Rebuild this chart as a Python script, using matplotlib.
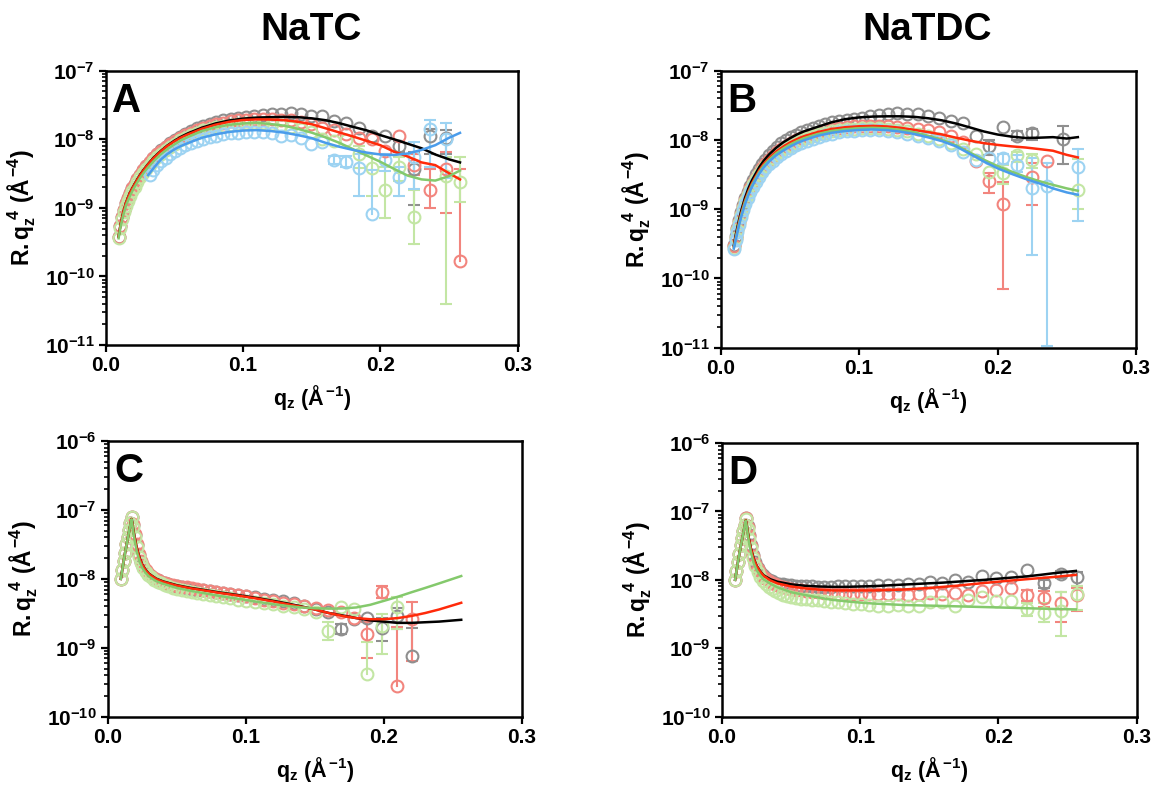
import numpy as np
import matplotlib
matplotlib.use('Agg')
import matplotlib.pyplot as plt
from matplotlib.ticker import LogLocator, FuncFormatter, NullFormatter, MultipleLocator, FixedLocator

plt.rcParams['font.family'] = 'Liberation Sans'
plt.rcParams['font.weight'] = 'bold'
plt.rcParams['mathtext.fontset'] = 'custom'
plt.rcParams['mathtext.rm'] = 'Liberation Sans:bold'
plt.rcParams['mathtext.it'] = 'Liberation Sans:bold'
plt.rcParams['mathtext.bf'] = 'Liberation Sans:bold'

nan = np.nan

# ---------------- data: panels A / B (q grid shared) ----------------
q_AB = [0.0095, 0.0107, 0.0119, 0.0132, 0.0146, 0.0161, 0.0177, 0.0194, 0.0212, 0.0232,
        0.0253, 0.0275, 0.0298, 0.0323, 0.0349, 0.0377, 0.0406, 0.0437, 0.047, 0.0505,
        0.0542, 0.0581, 0.0622, 0.0665, 0.071, 0.0757, 0.0806, 0.0857, 0.091, 0.0965,
        0.1022, 0.1082, 0.1144, 0.1209, 0.1277, 0.1348, 0.1422, 0.1499, 0.1579, 0.1663,
        0.1751, 0.1842, 0.1937, 0.2036, 0.2139, 0.2247, 0.2359, 0.2476, 0.258]

A_gray = [3.8e-10, 5.5e-10, 7.4e-10, 9.4e-10, 1.16e-9, 1.38e-9, 1.62e-9, 1.92e-9, 2.24e-9, 2.62e-9,
          3.05e-9, 3.52e-9, 4.05e-9, 4.6e-9, 5.3e-9, 6.1e-9, 6.9e-9, 7.8e-9, 8.8e-9, 9.8e-9,
          1.09e-8, 1.2e-8, 1.32e-8, 1.44e-8, 1.56e-8, 1.68e-8, 1.8e-8, 1.9e-8, 1.98e-8, 2.05e-8,
          2.12e-8, 2.18e-8, 2.24e-8, 2.3e-8, 2.36e-8, 2.42e-8, 2.3e-8, 2.15e-8, 2.2e-8, 1.85e-8,
          1.7e-8, 1.45e-8, 1.13e-8, 1.1e-8, 7.9e-9, 3.7e-9, 1.1e-8, 1.05e-8, nan]
A_red = [3.8e-10, 5.5e-10, 7.4e-10, 9.4e-10, 1.16e-9, 1.38e-9, 1.62e-9, 1.92e-9, 2.24e-9, 2.62e-9,
         3.05e-9, 3.52e-9, 4.05e-9, 4.6e-9, 5.25e-9, 6.0e-9, 6.8e-9, 7.6e-9, 8.5e-9, 9.4e-9,
         1.04e-8, 1.14e-8, 1.25e-8, 1.36e-8, 1.47e-8, 1.57e-8, 1.67e-8, 1.75e-8, 1.83e-8, 1.89e-8,
         1.93e-8, 1.96e-8, 1.97e-8, 1.96e-8, 1.93e-8, 1.88e-8, 1.8e-8, 1.68e-8, 1.45e-8, 1.38e-8,
         1.2e-8, 1.05e-8, 1.0e-8, 6.8e-9, 1.1e-8, 4.2e-9, 1.85e-9, 3.7e-9, 1.7e-10]
A_green = [3.6e-10, 5.1e-10, 6.8e-10, 8.6e-10, 1.06e-9, 1.26e-9, 1.47e-9, 1.75e-9, 2.03e-9, 2.38e-9,
           2.78e-9, 3.22e-9, 3.7e-9, 4.15e-9, 4.75e-9, 5.45e-9, 6.15e-9, 6.9e-9, 7.7e-9, 8.5e-9,
           9.6e-9, 1.05e-8, 1.15e-8, 1.25e-8, 1.35e-8, 1.43e-8, 1.51e-8, 1.58e-8, 1.64e-8, 1.68e-8,
           1.71e-8, 1.73e-8, 1.72e-8, 1.67e-8, 1.6e-8, 1.52e-8, 1.42e-8, 1.26e-8, 1.02e-8, 9.3e-9,
           9.6e-9, 6.0e-9, 3.8e-9, 1.8e-9, 4.0e-9, 7.4e-10, nan, 2.9e-9, 2.4e-9]
A_blue = [nan, nan, nan, nan, nan, nan, nan, nan, nan, nan,
          nan, nan, nan, 3.0e-9, 3.6e-9, 4.2e-9, 4.8e-9, 5.4e-9, 6.1e-9, 6.8e-9,
          7.5e-9, 8.2e-9, 8.9e-9, 9.5e-9, 1.02e-8, 1.08e-8, 1.13e-8, 1.18e-8, 1.22e-8, 1.25e-8,
          1.28e-8, 1.29e-8, 1.29e-8, 1.22e-8, 1.13e-8, 1.15e-8, 1.05e-8, 8.6e-9, 9.0e-9, 5.0e-9,
          4.7e-9, 3.8e-9, 8.2e-10, 5.0e-9, 2.8e-9, 5.6e-9, 1.4e-8, 1.0e-8, nan]

# error-bar ends for the last 11 points (q >= 0.158)
A_gray_lo = [None, None, None, None, None, None, 6.5e-9, 1.1e-9, 6e-9, 6e-9, None]
A_gray_hi = [None, None, None, None, None, None, 9.5e-9, 6.5e-9, 1.4e-8, 1.35e-8, None]
A_red_lo = [None, None, None, None, None, None, None, 3.0e-9, 1.0e-9, 8.5e-10, None]
A_red_hi = [None, None, None, None, None, None, None, 6.0e-9, 3.7e-9, 6.5e-9, 3.7e-9]
A_green_lo = [None, None, None, 3.8e-9, 1.5e-9, 7e-10, 2.5e-9, 3e-10, None, 4e-11, 1.2e-9]
A_green_hi = [None, None, None, 8e-9, 6e-9, 4e-9, 5.5e-9, 1.8e-9, None, 5.5e-9, 5.6e-9]
A_blue_lo = [None, 4.3e-9, 3.9e-9, 1.5e-9, None, 3.5e-9, 1.5e-9, 1.9e-9, 4e-9, 2.7e-9, None]
A_blue_hi = [None, 5.8e-9, 5.8e-9, 6e-9, 3.6e-9, 6e-9, 4e-9, 9e-9, 1.9e-8, 1.7e-8, None]

qf_AB = [0.0095, 0.011, 0.013, 0.015, 0.0175, 0.02, 0.0225, 0.025, 0.028, 0.031,
         0.035, 0.04, 0.045, 0.05, 0.055, 0.06, 0.07, 0.08, 0.09, 0.1,
         0.11, 0.12, 0.13, 0.14, 0.15, 0.16, 0.17, 0.18, 0.19, 0.2,
         0.21, 0.22, 0.23, 0.24, 0.25, 0.258]
A_fit_black = [3.8e-10, 5.8e-10, 8.8e-10, 1.2e-9, 1.62e-9, 2.02e-9, 2.48e-9, 3.0e-9, 3.65e-9, 4.35e-9,
               5.4e-9, 6.7e-9, 8.1e-9, 9.5e-9, 1.09e-8, 1.22e-8, 1.47e-8, 1.7e-8, 1.88e-8, 2.0e-8,
               2.07e-8, 2.1e-8, 2.12e-8, 2.1e-8, 2.02e-8, 1.9e-8, 1.72e-8, 1.52e-8, 1.35e-8, 1.15e-8,
               1.0e-8, 8.6e-9, 7.4e-9, 6.0e-9, 5.1e-9, 4.6e-9]
A_fit_red = [3.8e-10, 5.8e-10, 8.8e-10, 1.2e-9, 1.6e-9, 2.0e-9, 2.45e-9, 2.95e-9, 3.6e-9, 4.3e-9,
             5.3e-9, 6.6e-9, 8.0e-9, 9.3e-9, 1.06e-8, 1.18e-8, 1.42e-8, 1.63e-8, 1.8e-8, 1.91e-8,
             1.95e-8, 1.94e-8, 1.9e-8, 1.8e-8, 1.66e-8, 1.45e-8, 1.26e-8, 1.1e-8, 9.5e-9, 8.2e-9,
             6.6e-9, 5.6e-9, 4.6e-9, 4.2e-9, 3.2e-9, 2.6e-9]
A_fit_green = [3.6e-10, 5.4e-10, 8.0e-10, 1.1e-9, 1.45e-9, 1.85e-9, 2.25e-9, 2.72e-9, 3.3e-9, 3.9e-9,
               4.8e-9, 6.0e-9, 7.2e-9, 8.4e-9, 9.7e-9, 1.08e-8, 1.32e-8, 1.5e-8, 1.63e-8, 1.7e-8,
               1.74e-8, 1.67e-8, 1.58e-8, 1.42e-8, 1.25e-8, 1.07e-8, 8.9e-9, 7.2e-9, 5.8e-9, 4.7e-9,
               3.7e-9, 2.95e-9, 2.6e-9, 2.5e-9, 2.9e-9, 3.5e-9]
A_fit_blue = [nan, nan, nan, nan, nan, nan, nan, nan, nan, 3.0e-9,
              3.8e-9, 5.0e-9, 6.1e-9, 7.1e-9, 8.0e-9, 8.8e-9, 1.05e-8, 1.18e-8, 1.28e-8, 1.34e-8,
              1.36e-8, 1.32e-8, 1.25e-8, 1.15e-8, 1.04e-8, 8.9e-9, 7.8e-9, 7.0e-9, 6.4e-9, 6.0e-9,
              5.9e-9, 6.2e-9, 7.0e-9, 8.2e-9, 1.05e-8, 1.24e-8]

B_gray = [3.0e-10, 4.1e-10, 5.4e-10, 6.9e-10, 9.2e-10, 1.15e-9, 1.45e-9, 1.8e-9, 2.2e-9, 2.65e-9,
          3.2e-9, 3.8e-9, 4.5e-9, 5.2e-9, 6.1e-9, 7.0e-9, 8.0e-9, 9.0e-9, 1.0e-8, 1.1e-8,
          1.2e-8, 1.3e-8, 1.4e-8, 1.5e-8, 1.6e-8, 1.7e-8, 1.8e-8, 1.88e-8, 1.95e-8, 2.02e-8,
          2.1e-8, 2.2e-8, 2.3e-8, 2.4e-8, 2.42e-8, 2.4e-8, 2.35e-8, 2.25e-8, 2.1e-8, 1.87e-8,
          1.77e-8, 1.16e-8, 8.1e-9, 1.55e-8, 1.16e-8, 1.27e-8, nan, 1.03e-8, nan]
B_red = [2.9e-10, 3.9e-10, 5.1e-10, 6.6e-10, 8.6e-10, 1.08e-9, 1.35e-9, 1.65e-9, 2.0e-9, 2.4e-9,
         2.85e-9, 3.35e-9, 3.9e-9, 4.5e-9, 5.2e-9, 5.9e-9, 6.7e-9, 7.5e-9, 8.3e-9, 9.1e-9,
         1.0e-8, 1.08e-8, 1.16e-8, 1.24e-8, 1.32e-8, 1.39e-8, 1.45e-8, 1.5e-8, 1.55e-8, 1.58e-8,
         1.6e-8, 1.61e-8, 1.6e-8, 1.58e-8, 1.55e-8, 1.5e-8, 1.42e-8, 1.38e-8, 1.3e-8, 1.15e-8,
         9.5e-9, 4.9e-9, 2.6e-9, 1.2e-9, nan, 2.9e-9, 4.9e-9, nan, nan]
B_green = [2.8e-10, 3.8e-10, 5.0e-10, 6.4e-10, 8.3e-10, 1.04e-9, 1.3e-9, 1.58e-9, 1.9e-9, 2.3e-9,
           2.72e-9, 3.2e-9, 3.7e-9, 4.25e-9, 4.85e-9, 5.5e-9, 6.2e-9, 6.9e-9, 7.6e-9, 8.3e-9,
           9.1e-9, 9.9e-9, 1.07e-8, 1.14e-8, 1.21e-8, 1.28e-8, 1.34e-8, 1.39e-8, 1.43e-8, 1.46e-8,
           1.48e-8, 1.49e-8, 1.48e-8, 1.45e-8, 1.4e-8, 1.33e-8, 1.24e-8, 1.14e-8, 1.04e-8, 9.0e-9,
           7.5e-9, 6.2e-9, 3.5e-9, 3.3e-9, 6.1e-9, 5.2e-9, nan, nan, 1.9e-9]
B_blue = [2.7e-10, 3.6e-10, 4.7e-10, 6.0e-10, 7.7e-10, 9.6e-10, 1.2e-9, 1.46e-9, 1.75e-9, 2.1e-9,
          2.5e-9, 2.95e-9, 3.4e-9, 3.9e-9, 4.45e-9, 5.0e-9, 5.65e-9, 6.3e-9, 7.0e-9, 7.7e-9,
          8.4e-9, 9.1e-9, 9.8e-9, 1.05e-8, 1.12e-8, 1.18e-8, 1.24e-8, 1.29e-8, 1.33e-8, 1.36e-8,
          1.38e-8, 1.39e-8, 1.38e-8, 1.35e-8, 1.3e-8, 1.24e-8, 1.16e-8, 1.07e-8, 9.7e-9, 8.4e-9,
          6.8e-9, 5.2e-9, 5.5e-9, 5.5e-9, 4.4e-9, 2.0e-9, 2.2e-9, nan, 4.1e-9]

B_gray_lo = [None, None, None, None, 6e-9, None, 1.0e-8, 1.0e-8, None, 4.5e-9, None]
B_gray_hi = [None, None, None, None, 1.0e-8, None, 1.35e-8, 1.45e-8, None, 1.6e-8, None]
B_red_lo = [None, None, None, None, 1.7e-9, 7e-11, None, 1.15e-9, None, None, None]
B_red_hi = [None, None, None, None, 3.3e-9, 2.5e-9, None, 4.6e-9, None, None, None]
B_green_lo = [None, None, None, None, None, 2.3e-9, 4.8e-9, 4.0e-9, None, None, 1.0e-9]
B_green_hi = [None, None, None, None, None, 4.4e-9, 6.8e-9, 6.3e-9, None, None, 5.3e-9]
B_blue_lo = [None, None, None, None, None, 4.5e-9, 3.5e-9, 2.2e-10, 1.05e-11, None, 6.8e-10]
B_blue_hi = [None, None, None, None, None, 6.3e-9, 6.0e-9, 5.5e-9, 4.6e-9, None, 7.5e-9]

B_fit_black = [3.0e-10, 4.4e-10, 6.7e-10, 9.8e-10, 1.45e-9, 2.0e-9, 2.6e-9, 3.2e-9, 4.1e-9, 5.0e-9,
               6.2e-9, 7.7e-9, 9.2e-9, 1.06e-8, 1.2e-8, 1.33e-8, 1.55e-8, 1.8e-8, 2.0e-8, 2.12e-8,
               2.18e-8, 2.2e-8, 2.2e-8, 2.16e-8, 2.06e-8, 1.92e-8, 1.73e-8, 1.52e-8, 1.33e-8, 1.2e-8,
               1.12e-8, 1.07e-8, 1.08e-8, 1.1e-8, 1.05e-8, 1.1e-8]
B_fit_red = [2.9e-10, 4.1e-10, 6.2e-10, 9.0e-10, 1.32e-9, 1.8e-9, 2.35e-9, 2.9e-9, 3.7e-9, 4.5e-9,
             5.5e-9, 6.8e-9, 8.0e-9, 9.2e-9, 1.03e-8, 1.13e-8, 1.3e-8, 1.44e-8, 1.53e-8, 1.58e-8,
             1.6e-8, 1.57e-8, 1.5e-8, 1.4e-8, 1.3e-8, 1.2e-8, 1.08e-8, 9.8e-9, 9.0e-9, 8.5e-9,
             8.1e-9, 7.8e-9, 7.4e-9, 7.0e-9, 6.1e-9, 5.6e-9]
B_fit_green = [2.8e-10, 3.9e-10, 5.9e-10, 8.5e-10, 1.25e-9, 1.7e-9, 2.22e-9, 2.75e-9, 3.5e-9, 4.25e-9,
               5.2e-9, 6.4e-9, 7.5e-9, 8.6e-9, 9.6e-9, 1.06e-8, 1.22e-8, 1.35e-8, 1.43e-8, 1.48e-8,
               1.5e-8, 1.47e-8, 1.4e-8, 1.29e-8, 1.15e-8, 1.0e-8, 8.4e-9, 6.6e-9, 5.2e-9, 4.2e-9,
               3.5e-9, 2.95e-9, 2.55e-9, 2.25e-9, 2.0e-9, 1.85e-9]
B_fit_blue = [2.7e-10, 3.7e-10, 5.6e-10, 8.0e-10, 1.17e-9, 1.6e-9, 2.1e-9, 2.6e-9, 3.3e-9, 4.0e-9,
              4.9e-9, 6.0e-9, 7.0e-9, 8.0e-9, 9.0e-9, 9.9e-9, 1.15e-8, 1.27e-8, 1.35e-8, 1.4e-8,
              1.42e-8, 1.39e-8, 1.32e-8, 1.22e-8, 1.09e-8, 9.6e-9, 8.1e-9, 6.3e-9, 4.9e-9, 3.9e-9,
              3.25e-9, 2.75e-9, 2.37e-9, 2.0e-9, 1.75e-9, 1.62e-9]

# ---------------- data: panels C / D (q grid shared) ----------------
q_CD = [0.0095, 0.0105, 0.0115, 0.0125, 0.0135, 0.0145, 0.0155, 0.0165, 0.0175, 0.0185,
        0.0197, 0.021, 0.0225, 0.0241, 0.0258, 0.0276, 0.0295, 0.0316, 0.0338, 0.0361,
        0.0386, 0.0412, 0.044, 0.047, 0.0502, 0.0536, 0.0572, 0.061, 0.065, 0.0693,
        0.0738, 0.0786, 0.0836, 0.0889, 0.0945, 0.1004, 0.1066, 0.1131, 0.1199, 0.1271,
        0.1346, 0.1425, 0.1508, 0.1595, 0.1686, 0.1781, 0.188, 0.1984, 0.2093, 0.2207,
        0.2326, 0.245, 0.257]

C_gray = [1.0e-8, 1.35e-8, 1.8e-8, 2.4e-8, 3.2e-8, 4.1e-8, 5.1e-8, 6.4e-8, 7.9e-8, 6.0e-8,
          4.4e-8, 3.1e-8, 2.25e-8, 1.78e-8, 1.5e-8, 1.32e-8, 1.19e-8, 1.09e-8, 1.01e-8, 9.5e-9,
          9.0e-9, 8.6e-9, 8.3e-9, 8.0e-9, 7.8e-9, 7.6e-9, 7.4e-9, 7.2e-9, 7.0e-9, 6.8e-9,
          6.6e-9, 6.4e-9, 6.2e-9, 6.0e-9, 5.8e-9, 5.6e-9, 5.4e-9, 5.1e-9, 4.9e-9, 4.7e-9,
          4.4e-9, 4.0e-9, 3.6e-9, 3.3e-9, 1.87e-9, 2.6e-9, 2.7e-9, 1.97e-9, 2.9e-9, 7.7e-10,
          nan, nan, nan]
C_red = [1.0e-8, 1.35e-8, 1.8e-8, 2.4e-8, 3.2e-8, 4.1e-8, 5.1e-8, 6.4e-8, 7.9e-8, 6.2e-8,
         4.5e-8, 3.2e-8, 2.3e-8, 1.8e-8, 1.52e-8, 1.33e-8, 1.2e-8, 1.1e-8, 1.02e-8, 9.6e-9,
         9.1e-9, 8.7e-9, 8.4e-9, 8.1e-9, 7.9e-9, 7.7e-9, 7.5e-9, 7.3e-9, 7.1e-9, 6.9e-9,
         6.7e-9, 6.5e-9, 6.3e-9, 6.1e-9, 5.9e-9, 5.6e-9, 5.3e-9, 5.0e-9, 4.7e-9, 4.5e-9,
         4.3e-9, 4.0e-9, 3.8e-9, 3.5e-9, 3.3e-9, 2.7e-9, 1.58e-9, 6.4e-9, 2.8e-10, 2.65e-9,
         nan, nan, nan]
C_green = [1.0e-8, 1.35e-8, 1.8e-8, 2.4e-8, 3.2e-8, 4.1e-8, 5.1e-8, 6.4e-8, 7.8e-8, 5.6e-8,
           4.0e-8, 2.9e-8, 2.1e-8, 1.7e-8, 1.45e-8, 1.28e-8, 1.15e-8, 1.05e-8, 9.7e-9, 9.1e-9,
           8.6e-9, 8.2e-9, 7.8e-9, 7.4e-9, 7.1e-9, 6.8e-9, 6.6e-9, 6.4e-9, 6.2e-9, 6.0e-9,
           5.8e-9, 5.6e-9, 5.4e-9, 5.2e-9, 5.0e-9, 4.8e-9, 4.6e-9, 4.4e-9, 4.3e-9, 4.1e-9,
           3.9e-9, 3.6e-9, 3.3e-9, 1.76e-9, 3.85e-9, 3.7e-9, 4.2e-10, 2.04e-9, 3.85e-9, nan,
           nan, nan, nan]

# error-bar ends for the last 10 points (q >= 0.16)
C_gray_lo = [None, 1.6e-9, None, None, 1.25e-9, 1.9e-9, None, None, None, None]
C_gray_hi = [None, 2.2e-9, None, None, 2.7e-9, 3.8e-9, 1.95e-9, None, None, None]
C_red_lo = [None, None, None, 7e-10, 5.2e-9, None, 6.5e-10, None, None, None]
C_red_hi = [None, None, None, 2.4e-9, 7.9e-9, 2.0e-9, 4.6e-9, None, None, None]
C_green_lo = [1.3e-9, None, None, None, 8e-10, 1.9e-9, None, None, None, None]
C_green_hi = [2.4e-9, None, None, 1.2e-9, 3.1e-9, 5.5e-9, None, None, None, None]

qf_CD = [0.0095, 0.011, 0.0125, 0.014, 0.0155, 0.0165, 0.0172, 0.0178, 0.0185, 0.0195,
         0.021, 0.023, 0.025, 0.0275, 0.03, 0.035, 0.04, 0.05, 0.06, 0.07,
         0.08, 0.09, 0.1, 0.11, 0.12, 0.13, 0.14, 0.15, 0.16, 0.17,
         0.18, 0.19, 0.2, 0.21, 0.22, 0.23, 0.24, 0.256]
C_fit_black = [1.0e-8, 1.55e-8, 2.35e-8, 3.4e-8, 4.9e-8, 6.2e-8, 7.4e-8, 6.6e-8, 5.2e-8, 4.0e-8,
               2.85e-8, 2.05e-8, 1.62e-8, 1.35e-8, 1.18e-8, 1.01e-8, 9.2e-9, 8.1e-9, 7.4e-9, 6.9e-9,
               6.4e-9, 6.0e-9, 5.6e-9, 5.2e-9, 4.8e-9, 4.4e-9, 4.0e-9, 3.6e-9, 3.2e-9, 2.95e-9,
               2.7e-9, 2.5e-9, 2.4e-9, 2.3e-9, 2.3e-9, 2.35e-9, 2.4e-9, 2.55e-9]
C_fit_red = [1.0e-8, 1.55e-8, 2.35e-8, 3.4e-8, 4.9e-8, 6.2e-8, 7.4e-8, 6.5e-8, 5.1e-8, 3.9e-8,
             2.8e-8, 2.0e-8, 1.6e-8, 1.33e-8, 1.17e-8, 1.0e-8, 9.1e-9, 8.0e-9, 7.3e-9, 6.8e-9,
             6.3e-9, 5.9e-9, 5.5e-9, 5.1e-9, 4.7e-9, 4.3e-9, 3.95e-9, 3.6e-9, 3.2e-9, 2.9e-9,
             2.7e-9, 2.6e-9, 2.6e-9, 2.7e-9, 2.9e-9, 3.2e-9, 3.6e-9, 4.5e-9]
C_fit_green = [1.0e-8, 1.55e-8, 2.35e-8, 3.4e-8, 4.9e-8, 6.2e-8, 7.3e-8, 6.2e-8, 4.8e-8, 3.6e-8,
               2.5e-8, 1.8e-8, 1.45e-8, 1.22e-8, 1.08e-8, 9.3e-9, 8.5e-9, 7.4e-9, 6.7e-9, 6.2e-9,
               5.7e-9, 5.3e-9, 4.95e-9, 4.6e-9, 4.3e-9, 4.05e-9, 3.85e-9, 3.75e-9, 3.7e-9, 3.72e-9,
               3.85e-9, 4.2e-9, 4.8e-9, 5.5e-9, 6.4e-9, 7.4e-9, 8.6e-9, 1.1e-8]

D_gray = [1.0e-8, 1.35e-8, 1.8e-8, 2.4e-8, 3.2e-8, 4.1e-8, 5.1e-8, 6.4e-8, 7.9e-8, 6.2e-8,
          4.5e-8, 3.2e-8, 2.3e-8, 1.8e-8, 1.5e-8, 1.3e-8, 1.17e-8, 1.07e-8, 1.0e-8, 9.5e-9,
          9.1e-9, 8.8e-9, 8.6e-9, 8.4e-9, 8.3e-9, 8.2e-9, 8.1e-9, 8.0e-9, 8.0e-9, 7.9e-9,
          7.9e-9, 7.9e-9, 8.0e-9, 8.0e-9, 8.1e-9, 8.1e-9, 8.2e-9, 8.3e-9, 8.3e-9, 8.5e-9,
          8.7e-9, 8.8e-9, 9.2e-9, 9.0e-9, 1.0e-8, 9.3e-9, 1.15e-8, 1.07e-8, 1.1e-8, 1.38e-8,
          9.0e-9, 1.2e-8, 1.1e-8]
D_red = [1.0e-8, 1.35e-8, 1.8e-8, 2.4e-8, 3.2e-8, 4.1e-8, 5.1e-8, 6.4e-8, 7.9e-8, 6.0e-8,
         4.3e-8, 3.1e-8, 2.2e-8, 1.72e-8, 1.43e-8, 1.24e-8, 1.11e-8, 1.02e-8, 9.5e-9, 9.0e-9,
         8.6e-9, 8.2e-9, 7.9e-9, 7.6e-9, 7.4e-9, 7.2e-9, 7.0e-9, 6.8e-9, 6.7e-9, 6.6e-9,
         6.5e-9, 6.4e-9, 6.3e-9, 6.3e-9, 6.3e-9, 6.2e-9, 6.2e-9, 6.2e-9, 6.2e-9, 6.2e-9,
         6.1e-9, 6.3e-9, 6.4e-9, 6.3e-9, 6.5e-9, 6.0e-9, 6.8e-9, 7.2e-9, 7.6e-9, 6.0e-9,
         5.4e-9, 4.6e-9, 6.1e-9]
D_green = [1.0e-8, 1.35e-8, 1.8e-8, 2.4e-8, 3.2e-8, 4.1e-8, 5.1e-8, 6.4e-8, 7.8e-8, 5.6e-8,
           4.0e-8, 2.9e-8, 2.1e-8, 1.6e-8, 1.3e-8, 1.1e-8, 9.6e-9, 8.6e-9, 7.9e-9, 7.3e-9,
           6.8e-9, 6.4e-9, 6.1e-9, 5.9e-9, 5.7e-9, 5.5e-9, 5.3e-9, 5.2e-9, 5.1e-9, 5.0e-9,
           4.9e-9, 4.8e-9, 4.7e-9, 4.6e-9, 4.5e-9, 4.4e-9, 4.3e-9, 4.2e-9, 4.2e-9, 4.3e-9,
           4.2e-9, 4.2e-9, 4.8e-9, 4.7e-9, 4.1e-9, 5.0e-9, 5.6e-9, 4.9e-9, 4.9e-9, 3.7e-9,
           3.3e-9, 3.5e-9, 6.3e-9]

D_gray_lo = [None, None, None, None, None, None, None, 7.5e-9, 1.05e-8, 8e-9]
D_gray_hi = [None, None, None, None, None, None, None, 1.0e-8, 1.35e-8, 1.3e-8]
D_red_lo = [None, None, None, None, None, None, 4.9e-9, 4.0e-9, 2.4e-9, 3.5e-9]
D_red_hi = [None, None, None, None, None, None, 7.0e-9, 6.8e-9, 6.7e-9, 7.6e-9]
D_green_lo = [None, None, None, None, None, None, 3.0e-9, 2.4e-9, 1.5e-9, 3.6e-9]
D_green_hi = [None, None, None, None, None, None, 4.6e-9, 4.6e-9, 6.7e-9, 8.1e-9]

D_fit_black = [1.0e-8, 1.55e-8, 2.35e-8, 3.4e-8, 4.9e-8, 6.2e-8, 7.4e-8, 6.6e-8, 5.2e-8, 4.0e-8,
               2.85e-8, 2.05e-8, 1.62e-8, 1.35e-8, 1.17e-8, 1.02e-8, 9.4e-9, 8.6e-9, 8.2e-9, 8.0e-9,
               7.9e-9, 7.9e-9, 8.0e-9, 8.1e-9, 8.3e-9, 8.5e-9, 8.7e-9, 8.9e-9, 9.1e-9, 9.4e-9,
               9.7e-9, 1.0e-8, 1.04e-8, 1.08e-8, 1.12e-8, 1.18e-8, 1.25e-8, 1.35e-8]
D_fit_red = [1.0e-8, 1.55e-8, 2.35e-8, 3.4e-8, 4.9e-8, 6.2e-8, 7.4e-8, 6.5e-8, 5.1e-8, 3.9e-8,
             2.8e-8, 2.0e-8, 1.6e-8, 1.33e-8, 1.15e-8, 9.8e-9, 8.9e-9, 8.0e-9, 7.5e-9, 7.2e-9,
             7.0e-9, 7.0e-9, 7.0e-9, 7.0e-9, 7.1e-9, 7.2e-9, 7.4e-9, 7.6e-9, 7.9e-9, 8.2e-9,
             8.6e-9, 9.0e-9, 9.4e-9, 9.8e-9, 1.02e-8, 1.06e-8, 1.1e-8, 1.18e-8]
D_fit_green = [1.0e-8, 1.55e-8, 2.35e-8, 3.4e-8, 4.9e-8, 6.2e-8, 7.3e-8, 6.2e-8, 4.8e-8, 3.6e-8,
               2.5e-8, 1.75e-8, 1.4e-8, 1.17e-8, 1.02e-8, 8.8e-9, 7.8e-9, 6.6e-9, 6.0e-9, 5.5e-9,
               5.1e-9, 4.85e-9, 4.65e-9, 4.5e-9, 4.4e-9, 4.3e-9, 4.25e-9, 4.2e-9, 4.15e-9, 4.1e-9,
               4.05e-9, 4.0e-9, 3.95e-9, 3.9e-9, 3.85e-9, 3.8e-9, 3.75e-9, 3.7e-9]

# colours
c_gray, c_salmon, c_lgreen, c_lblue = '#8f8f8f', '#f2857e', '#c3e6a4', '#9dd3f2'
f_black, f_red, f_green, f_blue = '#000000', '#ff2a0a', '#84c96c', '#4a9ceb'


def data_series(ax, q, r, lo, hi, col):
    q = np.array(q)
    r = np.array(r, dtype=float)
    n = len(lo)
    # error bars (only the tail points have visible ones)
    for qi, ri, l, h in zip(q[-n:], r[-n:], lo, hi):
        if h is None or np.isnan(ri):
            continue
        bottom = ri if l is None else l
        ax.plot([qi, qi], [bottom, h], color=col, lw=1.5, zorder=2)
        ax.plot([qi], [h], marker='_', ms=8, mew=1.5, color=col, zorder=2)
        if l is not None:
            ax.plot([qi], [l], marker='_', ms=8, mew=1.5, color=col, zorder=2)
    ax.plot(q, r, 'o', ms=8.5, mfc='none', mec=col, mew=1.5, zorder=3)


def style(ax, dec_lo, dec_hi, letter):
    ax.set_yscale('log')
    ax.set_xlim(0, 0.3)
    ax.set_ylim(10.0 ** dec_lo, 10.0 ** dec_hi)
    ax.xaxis.set_major_locator(FixedLocator([0.0, 0.1, 0.2, 0.3]))
    ax.xaxis.set_major_formatter(FuncFormatter(lambda v, p: '%.1f' % v))
    majors = [10.0 ** k for k in range(dec_lo, dec_hi + 1)]
    minors = [m * 10.0 ** k for k in range(dec_lo, dec_hi) for m in range(2, 10)]
    ax.yaxis.set_major_locator(FixedLocator(majors))
    ax.yaxis.set_minor_locator(FixedLocator(minors))
    ax.yaxis.set_minor_formatter(NullFormatter())
    ax.yaxis.set_major_formatter(FuncFormatter(lambda v, p: r'$10^{%d}$' % round(np.log10(v))))
    for s in ax.spines.values():
        s.set_linewidth(1.8)
    ax.tick_params(which='major', direction='out', length=5, width=1.6, labelsize=15, pad=3)
    ax.tick_params(which='minor', direction='out', length=3, width=1.2)
    ax.set_xlabel(r'$q_z\ (Å^{-1})$', fontsize=15.5, labelpad=6)
    ax.set_ylabel(r'$R.q_z^{\ 4}\ (Å^{-4})$', fontsize=16.5, labelpad=5)
    ax.text(0.015, 0.96, letter, transform=ax.transAxes, fontsize=29,
            fontweight='bold', ha='left', va='top')


fig = plt.figure(figsize=(11.52, 7.89), dpi=100)
axA = fig.add_axes([0.0916, 0.5627, 0.3578, 0.3477])
axB = fig.add_axes([0.6256, 0.5593, 0.3605, 0.3510])
axC = fig.add_axes([0.0935, 0.0916, 0.3596, 0.3494])
axD = fig.add_axes([0.6267, 0.0916, 0.3600, 0.3470])

# panel A
data_series(axA, q_AB, A_gray, A_gray_lo, A_gray_hi, c_gray)
data_series(axA, q_AB, A_red, A_red_lo, A_red_hi, c_salmon)
data_series(axA, q_AB, A_green, A_green_lo, A_green_hi, c_lgreen)
data_series(axA, q_AB, A_blue, A_blue_lo, A_blue_hi, c_lblue)
for fit, col in [(A_fit_black, f_black), (A_fit_red, f_red), (A_fit_green, f_green), (A_fit_blue, f_blue)]:
    axA.plot(qf_AB, fit, color=col, lw=1.8, zorder=4)
style(axA, -11, -7, 'A')

# panel B
data_series(axB, q_AB, B_gray, B_gray_lo, B_gray_hi, c_gray)
data_series(axB, q_AB, B_red, B_red_lo, B_red_hi, c_salmon)
data_series(axB, q_AB, B_green, B_green_lo, B_green_hi, c_lgreen)
data_series(axB, q_AB, B_blue, B_blue_lo, B_blue_hi, c_lblue)
for fit, col in [(B_fit_black, f_black), (B_fit_red, f_red), (B_fit_green, f_green), (B_fit_blue, f_blue)]:
    axB.plot(qf_AB, fit, color=col, lw=1.8, zorder=4)
style(axB, -11, -7, 'B')

# panel C
data_series(axC, q_CD, C_gray, C_gray_lo, C_gray_hi, c_gray)
data_series(axC, q_CD, C_red, C_red_lo, C_red_hi, c_salmon)
data_series(axC, q_CD, C_green, C_green_lo, C_green_hi, c_lgreen)
for fit, col in [(C_fit_black, f_black), (C_fit_red, f_red), (C_fit_green, f_green)]:
    axC.plot(qf_CD, fit, color=col, lw=1.8, zorder=4)
style(axC, -10, -6, 'C')

# panel D
data_series(axD, q_CD, D_gray, D_gray_lo, D_gray_hi, c_gray)
data_series(axD, q_CD, D_red, D_red_lo, D_red_hi, c_salmon)
data_series(axD, q_CD, D_green, D_green_lo, D_green_hi, c_lgreen)
for fit, col in [(D_fit_black, f_black), (D_fit_red, f_red), (D_fit_green, f_green)]:
    axD.plot(qf_CD, fit, color=col, lw=1.8, zorder=4)
style(axD, -10, -6, 'D')

fig.text(0.270, 0.962, 'NaTC', fontsize=28, fontweight='bold', ha='center', va='center')
fig.text(0.805, 0.962, 'NaTDC', fontsize=28, fontweight='bold', ha='center', va='center')

fig.savefig('out.png', dpi=100)
